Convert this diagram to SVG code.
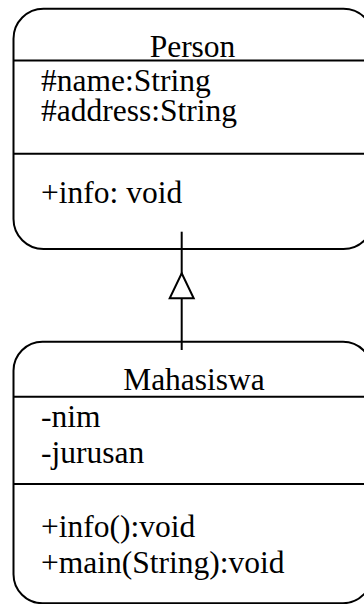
<svg xmlns="http://www.w3.org/2000/svg" width="364" height="604" viewBox="0 0 364 604">
  <style>
    .box { fill: #ffffff; stroke: #000000; stroke-width: 2; }
    .sep { stroke: #000000; stroke-width: 2; fill: none; }
    .edge { stroke: #000000; stroke-width: 2; fill: none; }
    .head { fill: #ffffff; stroke: #000000; stroke-width: 2; stroke-linejoin: miter; }
    text { font-family: "Liberation Serif", "Times New Roman", serif; font-size: 31.5px; fill: #000000; }
    .title { text-anchor: middle; }
  </style>
  <rect width="364" height="604" fill="#ffffff"/>

  <!-- Person class -->
  <g id="person">
    <rect class="box" x="13.5" y="8.7" width="360" height="240.3" rx="30" ry="30"/>
    <line class="sep" x1="13.5" y1="60.5" x2="373.5" y2="60.5"/>
    <line class="sep" x1="13.5" y1="153.7" x2="373.5" y2="153.7"/>
    <text class="title" x="192.5" y="57">Person</text>
    <text x="41" y="90.5">#name:String</text>
    <text x="41" y="121">#address:String</text>
    <text x="41" y="203">+info: void</text>
  </g>

  <!-- Mahasiswa class -->
  <g id="mahasiswa">
    <rect class="box" x="13.5" y="341.7" width="358.5" height="261.5" rx="29" ry="29"/>
    <line class="sep" x1="13.5" y1="396.7" x2="372" y2="396.7"/>
    <line class="sep" x1="13.5" y1="484" x2="372" y2="484"/>
    <text class="title" x="194" y="390">Mahasiswa</text>
    <text x="41" y="426.5">-nim</text>
    <text x="41" y="463">-jurusan</text>
    <text x="41" y="536.5">+info():void</text>
    <text x="41" y="573">+main(String):void</text>
  </g>

  <!-- Generalization: Mahasiswa extends Person -->
  <g id="connectors">
    <line class="edge" x1="181.7" y1="350" x2="181.7" y2="231.7"/>
    <polygon class="head" points="181.7,273.3 193.7,298.3 169.7,298.3"/>
  </g>
</svg>
